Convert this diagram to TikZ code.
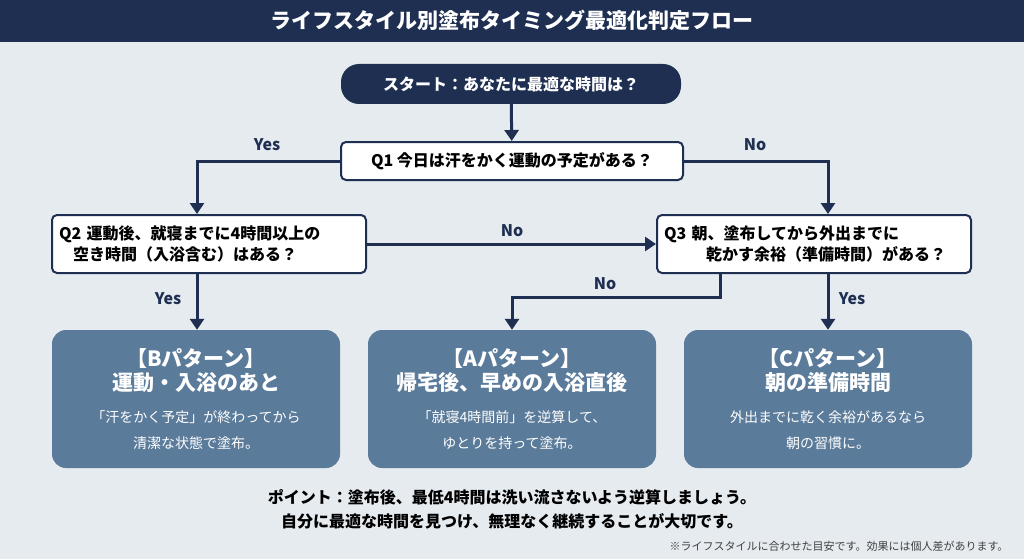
\documentclass[tikz,border=0pt]{standalone}
\usepackage{fontspec}
\setmainfont{Noto Sans CJK JP}
\usetikzlibrary{arrows.meta}
\definecolor{navy}{HTML}{1E2F52}
\definecolor{bg}{HTML}{E6EBF0}
\definecolor{steel}{HTML}{5B7B9B}
\newcommand{\bigf}{\fontsize{21}{26}\selectfont\bfseries}
\newcommand{\smallf}{\fontsize{14}{22}\selectfont\mdseries}
\begin{document}
\begin{tikzpicture}[x=1pt,y=-1pt,
  q/.style={draw=navy,line width=2pt,fill=white,rounded corners=5pt,align=left,font=\fontsize{16}{21}\selectfont\bfseries,text=black},
  res/.style={fill=steel,rounded corners=14pt,minimum width=288pt,minimum height=138pt,align=center,text=white},
  arr/.style={draw=navy,line width=3pt,-{Triangle[length=11pt,width=14pt]}},
  lab/.style={text=navy,font=\fontsize{16}{18}\selectfont\bfseries}]
\fill[bg] (0,0) rectangle (1024,559);
\useasboundingbox (0,0) rectangle (1024,559);
\fill[navy] (0,0) rectangle (1024,42);
\node[text=white,font=\fontsize{21}{24}\selectfont\bfseries] (title) at (512,20) {ライフスタイル別塗布タイミング最適化判定フロー};
\node[fill=navy,rounded corners=18pt,minimum width=340pt,minimum height=40pt,text=white,font=\fontsize{16}{19}\selectfont\bfseries] (start) at (511,84) {スタート：あなたに最適な時間は？};
\node[q,minimum width=342pt,minimum height=38pt,align=center] (q1) at (512,161) {Q1 今日は汗をかく運動の予定がある？};
\node[q,minimum width=314pt,minimum height=58pt,text width=300pt] (q2) at (209,244) {Q2 運動後、就寝までに4時間以上の\\\hspace{14pt}空き時間（入浴含む）はある？};
\node[q,minimum width=314pt,minimum height=58pt,text width=300pt] (q3) at (814,244) {Q3 朝、塗布してから外出までに\\\hspace{42pt}乾かす余裕（準備時間）がある？};
\node[res,font=\bigf] (b) at (196,399) {【Bパターン】\\[-2pt]運動・入浴のあと\\[6pt]\smallf 「汗をかく予定」が終わってから\\\smallf 清潔な状態で塗布。};
\node[res,font=\bigf] (a) at (512,399) {【Aパターン】\\[-2pt]帰宅後、早めの入浴直後\\[6pt]\smallf 「就寝4時間前」を逆算して、\\\smallf ゆとりを持って塗布。};
\node[res,font=\bigf] (c) at (828,399) {【Cパターン】\\[-2pt]朝の準備時間\\[6pt]\smallf 外出までに乾く余裕があるなら\\\smallf 朝の習慣に。};
\draw[arr] (start) -- (q1);
\draw[arr] (q1.west) -| ([xshift=-12pt]q2.north);
\draw[arr] (q1.east) -| ([xshift=14pt]q3.north);
\draw[arr] (q2.east) -- (q3.west);
\draw[arr] ([xshift=-12pt]q2.south) -- ([xshift=1pt]b.north);
\draw[arr] ([xshift=-94pt]q3.south) |- +(0,23) -| (a.north);
\draw[arr] ([xshift=14pt]q3.south) -- (c.north);
\node[lab] (y1) at (267,145) {Yes};
\node[lab] (n1) at (755,145) {No};
\node[lab] (n2) at (512,231) {No};
\node[lab] (y2) at (168,299) {Yes};
\node[lab] (n3) at (605,284) {No};
\node[lab] (y3) at (852,299) {Yes};
\node[font=\fontsize{16}{24}\selectfont\bfseries,align=center] (pt) at (512,509) {ポイント：塗布後、最低4時間は洗い流さないよう逆算しましょう。\\自分に最適な時間を見つけ、無理なく継続することが大切です。};
\node[font=\fontsize{11}{13}\selectfont,text=black!75,anchor=east] (fn) at (1012,546) {※ライフスタイルに合わせた目安です。効果には個人差があります。};
\end{tikzpicture}
\end{document}
